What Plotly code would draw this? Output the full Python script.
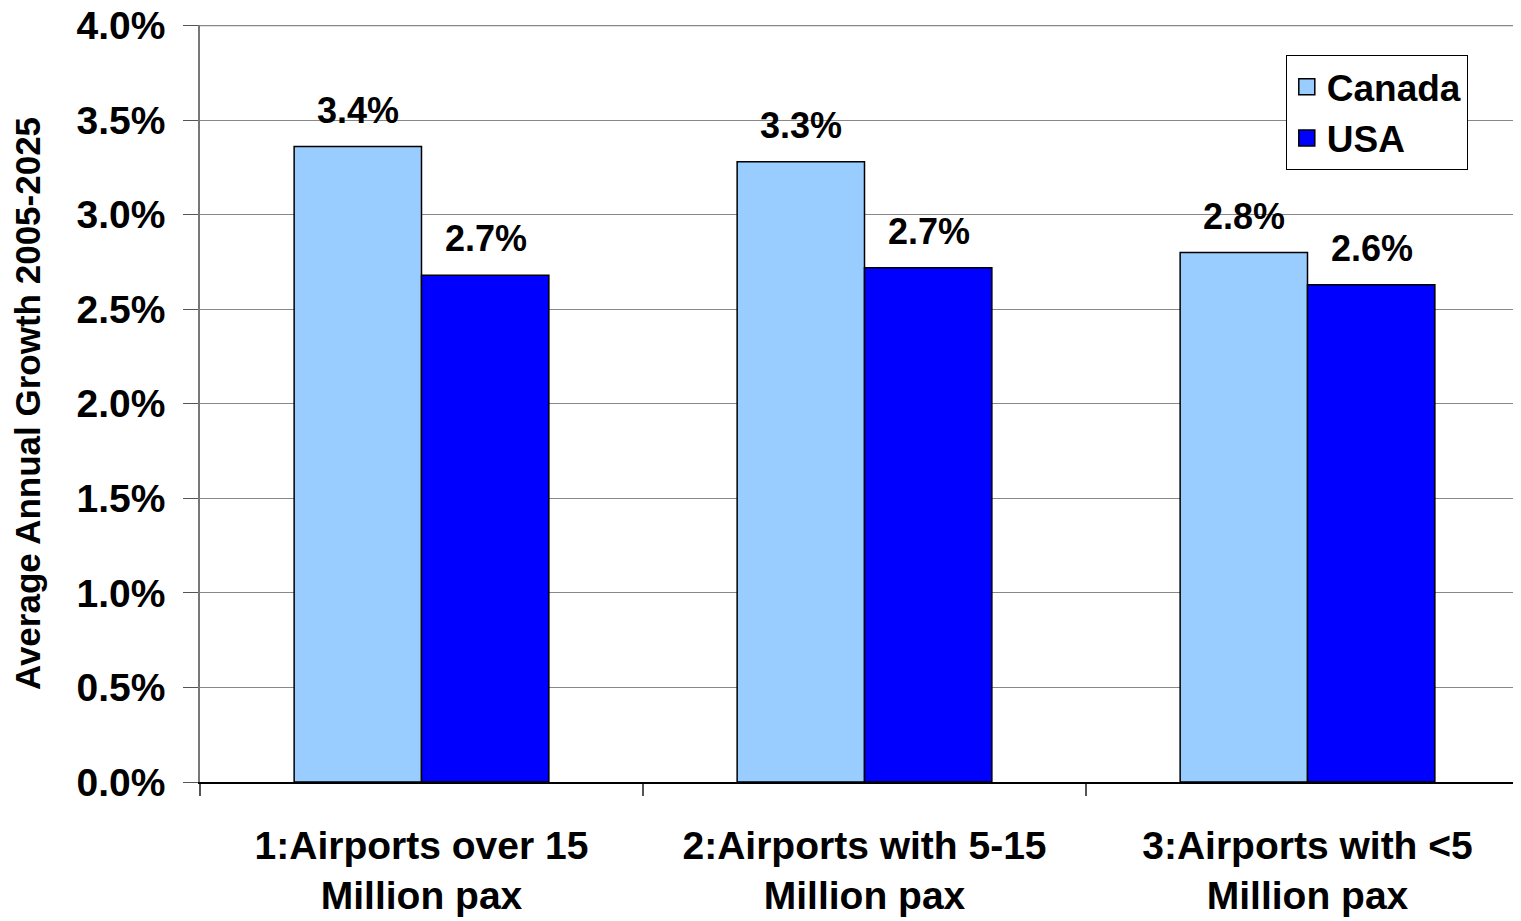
import plotly.graph_objects as go

categories = ["1:Airports over 15<br>Million pax", "2:Airports with 5-15<br>Million pax", "3:Airports with <5<br>Million pax"]
canada = [3.36, 3.28, 2.80]
usa = [2.68, 2.72, 2.63]
canada_labels = ["3.4%", "3.3%", "2.8%"]
usa_labels = ["2.7%", "2.7%", "2.6%"]
y_ticks = [0.0, 0.5, 1.0, 1.5, 2.0, 2.5, 3.0, 3.5, 4.0]

FONT = "Liberation Sans, Arial, sans-serif"
CANADA_COLOR = "#99CCFF"
USA_COLOR = "#0000FF"

fig = go.Figure()
fig.add_trace(go.Bar(name="Canada", x=categories, y=canada, showlegend=False,
                     marker=dict(color=CANADA_COLOR, line=dict(color="black", width=1.5))))
fig.add_trace(go.Bar(name="USA", x=categories, y=usa, showlegend=False,
                     marker=dict(color=USA_COLOR, line=dict(color="black", width=1.5))))
# legend entries with larger square swatches
for name, col in [("Canada", CANADA_COLOR), ("USA", USA_COLOR)]:
    fig.add_trace(go.Scatter(name=name, x=[None], y=[None], mode="markers", showlegend=True,
                             marker=dict(symbol="square", size=16, color=col,
                                         line=dict(color="black", width=1.5))))

for i, c in enumerate(categories):
    fig.add_annotation(x=c, y=canada[i], text="<b>%s</b>" % canada_labels[i], showarrow=False,
                       xshift=-64, yshift=14, yanchor="bottom", font=dict(size=36, color="black", family=FONT))
    fig.add_annotation(x=c, y=usa[i], text="<b>%s</b>" % usa_labels[i], showarrow=False,
                       xshift=64, yshift=14, yanchor="bottom", font=dict(size=36, color="black", family=FONT))

# top gridline (plotly drops the grid line at the range edge)
fig.add_shape(type="line", xref="paper", x0=0, x1=1, yref="y", y0=y_ticks[-1], y1=y_ticks[-1],
              line=dict(color="#888888", width=1.5), layer="below")

fig.update_layout(
    width=1521, height=921,
    margin=dict(l=192, r=0, t=17, b=147),
    plot_bgcolor="white", paper_bgcolor="white",
    barmode="group", bargap=0.425, bargroupgap=0,
    font=dict(family=FONT, color="black"),
    showlegend=True,
    legend=dict(x=0.817, y=0.96, xanchor="left", yanchor="top",
                bgcolor="white", bordercolor="black", borderwidth=1,
                font=dict(size=37, family=FONT, color="black", weight="bold"),
                itemsizing="trace", tracegroupgap=0),
)
fig.update_xaxes(
    range=[-0.5, 2.5], automargin=False,
    tickson="boundaries", ticks="outside", ticklen=12, tickcolor="#555555", tickwidth=1.5,
    ticklabelstandoff=28,
    showline=True, linecolor="black", linewidth=1.5,
    tickfont=dict(size=39, family=FONT, color="black", weight="bold"),
    showgrid=False,
)
fig.update_yaxes(
    range=[0, 4.003], automargin=False, tickvals=y_ticks, ticktext=["%.1f%%" % v for v in y_ticks],
    ticks="outside", ticklen=15, tickcolor="#555555", tickwidth=1,
    ticklabelstandoff=10, ticklabeloverflow="allow",
    showline=True, linecolor="#777777", linewidth=1.5,
    showgrid=True, gridcolor="#888888", gridwidth=1,
    tickfont=dict(size=39, family=FONT, color="black", weight="bold"),
    title=dict(text="Average Annual Growth 2005-2025", font=dict(size=35, family=FONT, color="black", weight="bold"), standoff=26),
    zeroline=False,
)

fig.write_html("out.html")
